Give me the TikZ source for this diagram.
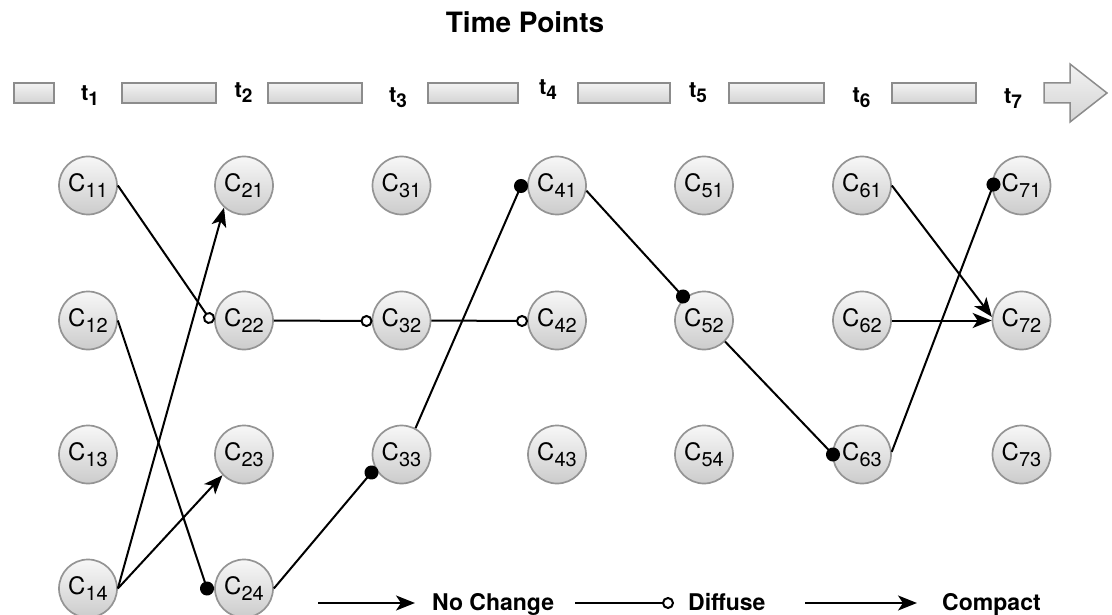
\documentclass[tikz,border=0pt]{standalone}
\usepackage{fontspec}
\setmainfont{TeX Gyre Heros}
\usetikzlibrary{arrows.meta,calc}
\newcommand{\clab}[1]{\fontsize{24}{24}\selectfont C\raisebox{-6pt}{\fontsize{20}{20}\selectfont #1}}
\newcommand{\tlab}[1]{\fontsize{22}{22}\selectfont\bfseries t\raisebox{-5pt}{\fontsize{19}{19}\selectfont #1}}
\begin{document}
\begin{tikzpicture}[x=1pt,y=-1pt]
\tikzset{
 cnode/.style={circle, minimum size=58pt, inner sep=0pt, draw=black!42, line width=1.7pt, top color=black!3, bottom color=black!20},
 conn/.style={line width=2pt, black},
 noch/.style={conn, -{Stealth[length=19pt,width=15pt,inset=5pt]}},
 diff/.style={conn, -{Circle[open,length=12pt]}, shorten >=-6pt},
 comp/.style={conn, -{Circle[length=14pt]}, shorten >=-7pt},
 seg/.style={draw=black!45, line width=1.5pt, top color=black!5, bottom color=black!17},
 tnode/.style={inner sep=0pt},
 legtext/.style={font=\fontsize{23}{23}\selectfont\bfseries, anchor=base west, inner sep=0pt}
}
\useasboundingbox (0,0) rectangle (1112,615);

% title
\node[font=\fontsize{28}{28}\selectfont\bfseries] (title) at (525,22) {Time Points};

% time bar
\path[seg] (14,83) rectangle (54,103);
\path[seg] (122,83) rectangle (216,103);
\path[seg] (268,83) rectangle (362,103);
\path[seg] (428,83) rectangle (518,103);
\path[seg] (578,83) rectangle (670,103);
\path[seg] (729,83) rectangle (824,103);
\path[seg] (892,83) rectangle (976,103);
\path[seg] (1044,83) -- (1070,83) -- (1070,64) -- (1107,93) -- (1070,122) -- (1070,103) -- (1044,103) -- cycle;

\node[tnode] (t1) at (90,95.5) {\tlab{1}};
\node[tnode] (t2) at (243.5,92.5) {\tlab{2}};
\node[tnode] (t3) at (398,98) {\tlab{3}};
\node[tnode] (t4) at (548,90) {\tlab{4}};
\node[tnode] (t5) at (698,92.5) {\tlab{5}};
\node[tnode] (t6) at (861.5,97.5) {\tlab{6}};
\node[tnode] (t7) at (1013,99) {\tlab{7}};

% nodes
\node[cnode] (c11) at (88,185.5) {\clab{11}};
\node[cnode] (c12) at (88,320.5) {\clab{12}};
\node[cnode] (c13) at (88,454.5) {\clab{13}};
\node[cnode] (c14) at (88,588.5) {\clab{14}};
\node[cnode] (c21) at (244,185.5) {\clab{21}};
\node[cnode] (c22) at (244,320.5) {\clab{22}};
\node[cnode] (c23) at (244,454.5) {\clab{23}};
\node[cnode] (c24) at (244,588.5) {\clab{24}};
\node[cnode] (c31) at (401.5,185.5) {\clab{31}};
\node[cnode] (c32) at (401.5,320.5) {\clab{32}};
\node[cnode] (c33) at (401.5,454.5) {\clab{33}};
\node[cnode] (c41) at (557,185.5) {\clab{41}};
\node[cnode] (c42) at (557,320.5) {\clab{42}};
\node[cnode] (c43) at (557,454.5) {\clab{43}};
\node[cnode] (c51) at (704,185.5) {\clab{51}};
\node[cnode] (c52) at (704,320.5) {\clab{52}};
\node[cnode] (c54) at (704,454.5) {\clab{54}};
\node[cnode] (c61) at (862,185.5) {\clab{61}};
\node[cnode] (c62) at (862,320.5) {\clab{62}};
\node[cnode] (c63) at (862,454.5) {\clab{63}};
\node[cnode] (c71) at (1021.5,185.5) {\clab{71}};
\node[cnode] (c72) at (1021.5,320.5) {\clab{72}};
\node[cnode] (c73) at (1021.5,454.5) {\clab{73}};

% connectors
\draw[diff] (c11.east) -- ($(c22.center)+(-35,-2.5)$);
\draw[noch] (c14.east) -- (c21.228);
\draw[noch] (c14.east) -- (c23.224);
\draw[comp] (c12.east) -- ($(c24.center)+(-37,0)$);
\draw[diff] (c22.east) -- ($(c32.center)+(-35,0.5)$);
\draw[diff] (c32.east) -- ($(c42.center)+(-35,0.5)$);
\draw[comp] (c24.east) -- ($(c33.center)+(-30,18)$);
\draw[comp] (c33.62) -- ($(c41.center)+(-36,0.5)$);
\draw[comp] (c41.-10) -- ($(c52.center)+(-21,-24)$);
\draw[comp] (c52.-45) -- ($(c63.center)+(-29,0)$);
\draw[comp] (c63.5) -- ($(c71.center)+(-28,-1)$);
\draw[noch] (c61.east) -- (c72.173);
\draw[noch] (c62.east) -- (c72.west);

% legend
\coordinate (l1a) at (318,603); \coordinate (l1b) at (415,603);
\coordinate (l2a) at (575,603); \coordinate (l2b) at (668,603);
\coordinate (l3a) at (805,603); \coordinate (l3b) at (917,603);
\draw[noch] (l1a) -- (l1b);
\draw[diff] (l2a) -- (l2b);
\draw[noch] (l3a) -- (l3b);
\node[legtext] (lg1) at (432,610) {No Change};
\node[legtext] (lg2) at (688,610) {Diffuse};
\node[legtext] (lg3) at (942,610) {Compact};
\end{tikzpicture}
\end{document}
